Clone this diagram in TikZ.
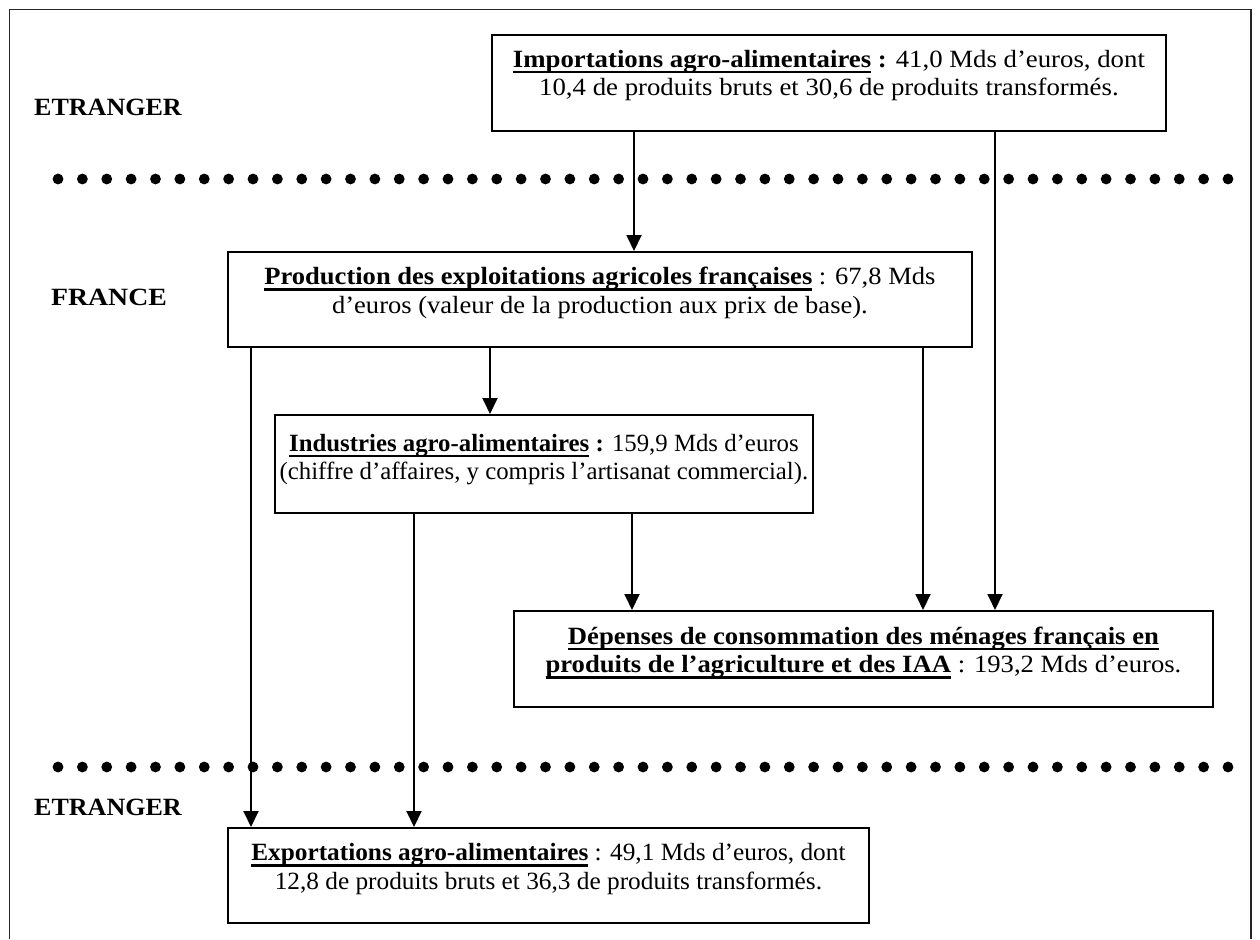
\documentclass[tikz,border=0pt]{standalone}
\usepackage{fontspec}
\setmainfont{Liberation Serif}
\usetikzlibrary{arrows.meta}
\newcommand\ulbox[1]{\setbox0\hbox{#1}\leavevmode\rlap{\vrule height -3.5pt depth 5.8pt width \wd0}\box0\relax}
\newcommand\hstretchbox[2]{\scalebox{#1}[1]{\begin{tabular}{@{}c@{}}#2\end{tabular}}}
\begin{document}
\begin{tikzpicture}[x=1pt,y=-1pt,
  box/.style={draw, line width=1.9pt, inner sep=0pt, anchor=north west},
  txt/.style={align=center, inner sep=0pt, font=\fontsize{24.8}{28.6}\selectfont},
  lab/.style={inner sep=0pt, font=\fontsize{24.8}{28.6}\selectfont\bfseries},
  arr/.style={line width=1.9pt, -{Triangle[width=15pt,length=16pt]}},
  frame/.style={line width=1.6pt, draw=black!85},
  dot/.style={fill=black}]
\useasboundingbox (0,0) rectangle (1260,939);
% frame
\draw[frame] (9.5,939) -- (9.5,9.5) -- (1251,9.5) -- (1251,939);
% dotted separators
\foreach \i in {0,...,48} {
  \fill[dot] (58+\i*24.375,179) circle (5.4);
  \fill[dot] (58+\i*24.375,767) circle (5.4);
}
% side labels
\node[lab] (et1) at (108,110) {\hstretchbox{1.05}{ETRANGER}};
\node[lab] (fr) at (109,300) {\hstretchbox{1.12}{FRANCE}};
\node[lab] (et2) at (108,810) {\hstretchbox{1.05}{ETRANGER}};
% boxes
\node[box, minimum width=674pt, minimum height=96pt] (imp) at (491,34) {};
\node[box, minimum width=744pt, minimum height=95pt] (prod) at (227,251) {};
\node[box, minimum width=538pt, minimum height=98pt] (ind) at (274,414) {};
\node[box, minimum width=699pt, minimum height=96pt] (dep) at (513,610) {};
\node[box, minimum width=641pt, minimum height=95pt] (exp) at (227,827) {};
% texts
\node[txt] (impT) at ([yshift=7pt]imp.center) {\hstretchbox{1.08}{\textbf{\ulbox{Importations agro-alimentaires} :} 41,0 Mds d’euros, dont\\10,4 de produits bruts et 30,6 de produits transformés.}};
\node[txt] (prodT) at ([yshift=6pt]prod.center) {\hstretchbox{1.07}{\textbf{\ulbox{Production des exploitations agricoles françaises}} : 67,8 Mds\\d’euros (valeur de la production aux prix de base).}};
\node[txt] (indT) at ([yshift=4pt]ind.center) {\hstretchbox{1.0}{\textbf{\ulbox{Industries agro-alimentaires} :} 159,9 Mds d’euros\\(chiffre d’affaires, y compris l’artisanat commercial).}};
\node[txt] (depT) at ([yshift=6pt]dep.center) {\hstretchbox{1.075}{\textbf{\ulbox{Dépenses de consommation des ménages français en}}\\\textbf{\ulbox{produits de l’agriculture et des IAA}} : 193,2 Mds d’euros.}};
\node[txt] (expT) at ([yshift=6pt]exp.center) {\hstretchbox{1.02}{\textbf{\ulbox{Exportations agro-alimentaires}} : 49,1 Mds d’euros, dont\\12,8 de produits bruts et 36,3 de produits transformés.}};
% arrow columns
\coordinate (c1) at (251,0);
\coordinate (c2) at (414,0);
\coordinate (c3) at (490,0);
\coordinate (c4) at (632,0);
\coordinate (c5) at (634,0);
\coordinate (c6) at (923,0);
\coordinate (c7) at (995,0);
\draw[arr] (imp.south -| c5) -- (prod.north -| c5);
\draw[arr] (imp.south -| c7) -- (dep.north -| c7);
\draw[arr] (prod.south -| c1) -- (exp.north -| c1);
\draw[arr] (prod.south -| c3) -- (ind.north -| c3);
\draw[arr] (prod.south -| c6) -- (dep.north -| c6);
\draw[arr] (ind.south -| c2) -- (exp.north -| c2);
\draw[arr] (ind.south -| c4) -- (dep.north -| c4);
\end{tikzpicture}
\end{document}
